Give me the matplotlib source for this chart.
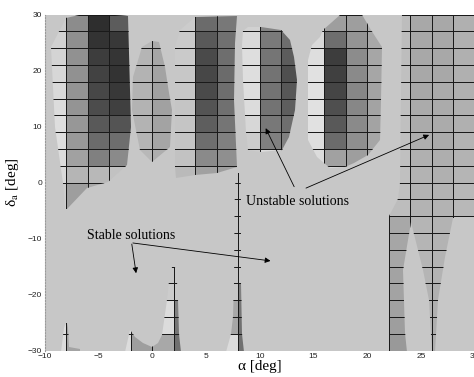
import numpy as np
import matplotlib.pyplot as plt
from matplotlib.patches import Polygon

plt.rcParams['mathtext.fontset'] = 'stix'

# ---- data: each unstable region = cell grid (x edges, y edges, grey level) + outline ----
# region left of alpha=-2
a_x = [-10, -8, -6, -4, -1]
a_y = [-6, 0, 3, 6, 9, 12, 15, 18, 21, 24, 27, 30]
a_z = [
    [0.80, 0.62, 0.66, 0.72],
    [0.85, 0.71, 0.72, 0.76],
    [0.86, 0.63, 0.50, 0.54],
    [0.87, 0.60, 0.42, 0.43],
    [0.87, 0.59, 0.35, 0.33],
    [0.86, 0.58, 0.30, 0.25],
    [0.85, 0.58, 0.28, 0.22],
    [0.84, 0.57, 0.26, 0.20],
    [0.83, 0.57, 0.24, 0.21],
    [0.82, 0.56, 0.20, 0.22],
    [0.80, 0.55, 0.18, 0.36],
]
a_edge = [(-8.0, 29.4), (-6.0, 30.2), (-2.25, 29.7), (-2.0, 9.9), (-2.35, 3.1),
          (-4.1, 0.1), (-6.1, -1.0), (-7.95, -4.7), (-8.1, -4.7), (-8.3, 0.0),
          (-9.05, 9.9), (-9.37, 24.2)]

# small region around alpha=0
b_x = [-2, 0, 2.5]
b_y = [3, 6, 9, 12, 15, 18, 21, 24, 27]
b_z = [
    [0.72, 0.68], [0.71, 0.65], [0.70, 0.64], [0.70, 0.63],
    [0.70, 0.63], [0.70, 0.64], [0.71, 0.65], [0.72, 0.67],
]
b_edge = [(-0.06, 25.3), (0.65, 25.1), (1.18, 20.7), (1.6, 16.0), (1.8, 12.9),
          (1.65, 6.4), (-0.06, 3.7), (-1.14, 5.8), (-1.92, 12.9), (-1.77, 18.9),
          (-0.99, 24.2)]

# region between alpha=2 and 8
c_x = [2, 4, 6, 8.5]
c_y = [0, 3, 6, 9, 12, 15, 18, 21, 24, 27, 30]
c_z = [
    [0.73, 0.63, 0.62],
    [0.76, 0.54, 0.56],
    [0.77, 0.43, 0.50],
    [0.77, 0.37, 0.46],
    [0.77, 0.33, 0.44],
    [0.78, 0.29, 0.43],
    [0.78, 0.28, 0.42],
    [0.79, 0.29, 0.43],
    [0.79, 0.35, 0.44],
    [0.80, 0.42, 0.47],
]
c_edge = [(2.6, 27.2), (3.97, 29.5), (7.88, 29.8), (7.7, 24.9), (7.6, 14.7),
          (7.85, 2.8), (6.0, 1.7), (3.97, 1.3), (2.2, 0.8), (2.1, 2.8), (2.1, 24.2)]

# region between alpha=8.5 and 13.5
d_x = [8, 10, 12, 14]
d_y = [3, 6, 9, 12, 15, 18, 21, 24, 27, 30]
d_z = [
    [0.80, 0.86, 0.60],
    [0.80, 0.50, 0.50],
    [0.84, 0.47, 0.43],
    [0.86, 0.45, 0.37],
    [0.87, 0.45, 0.34],
    [0.87, 0.45, 0.31],
    [0.87, 0.46, 0.36],
    [0.85, 0.48, 0.43],
    [0.82, 0.52, 0.47],
]
d_edge = [(8.45, 27.1), (8.9, 27.8), (10.1, 27.8), (12.0, 27.2), (12.8, 25.4),
          (13.2, 22.5), (13.5, 18.3), (13.3, 12.9), (12.7, 8.2), (12.05, 5.8),
          (10.0, 5.45), (8.9, 5.8), (8.7, 9.0), (8.45, 18.3), (8.35, 24.5)]

# region between alpha=14.5 and 21.5
e_x = [14, 16, 18, 20, 22]
e_y = [0, 3, 6, 9, 12, 15, 18, 21, 24, 27, 30]
e_z = [
    [0.82, 0.85, 0.70, 0.68],
    [0.86, 0.63, 0.62, 0.66],
    [0.87, 0.42, 0.56, 0.65],
    [0.88, 0.35, 0.54, 0.64],
    [0.88, 0.31, 0.53, 0.64],
    [0.88, 0.27, 0.53, 0.64],
    [0.88, 0.25, 0.54, 0.65],
    [0.87, 0.24, 0.55, 0.65],
    [0.85, 0.43, 0.58, 0.66],
    [0.82, 0.62, 0.62, 0.68],
]
e_edge = [(15.6, 26.0), (15.9, 27.2), (17.5, 29.9), (19.4, 30.2), (20.3, 27.2),
          (21.4, 24.2), (21.3, 14.7), (21.2, 7.6), (20.1, 4.9), (18.8, 3.4),
          (17.9, 2.8), (16.5, 2.6), (15.3, 4.6), (14.5, 7.6), (14.5, 21.9),
          (14.85, 24.5)]

# large region on the right
f_x = [22, 24, 26, 28, 30]
f_y = list(range(-30, 31, 3))
f_z = [
    [0.60, 0.70, 0.68, 0.78],
    [0.62, 0.70, 0.68, 0.78],
    [0.63, 0.70, 0.69, 0.78],
    [0.64, 0.70, 0.69, 0.78],
    [0.64, 0.71, 0.70, 0.78],
    [0.65, 0.71, 0.70, 0.78],
    [0.65, 0.71, 0.70, 0.78],
    [0.66, 0.71, 0.70, 0.78],
    [0.74, 0.70, 0.70, 0.72],
    [0.75, 0.70, 0.70, 0.72],
    [0.75, 0.70, 0.69, 0.71],
    [0.75, 0.69, 0.68, 0.70],
    [0.75, 0.68, 0.67, 0.70],
    [0.75, 0.67, 0.67, 0.69],
    [0.75, 0.67, 0.67, 0.69],
    [0.75, 0.66, 0.67, 0.69],
    [0.75, 0.66, 0.66, 0.69],
    [0.74, 0.66, 0.66, 0.69],
    [0.74, 0.66, 0.66, 0.69],
    [0.74, 0.66, 0.66, 0.69],
]
f_edge = [(23.2, 30.2), (30.5, 30.2), (30.5, -6.25), (28.0, -6.25), (27.2, -13.25),
          (26.6, -21.0), (26.3, -30.2), (26.0, -30.2), (25.7, -21.0), (25.2, -15.6),
          (24.1, -7.0), (23.35, -15.6), (23.5, -26.9), (23.7, -30.2), (21.95, -30.2),
          (21.95, -6.25), (22.9, -3.0), (23.0, 0.0), (23.1, 15.0)]

# narrow spikes at the bottom
s1_x = [-10, -8, -6]
s1_y = [-30, -27, -24]
s1_z = [[0.86, 0.64], [0.86, 0.64]]
s1_edge = [(-8.45, -30.2), (-8.2, -26.0), (-8.05, -25.0), (-7.95, -25.0),
           (-7.8, -26.0), (-7.7, -29.3), (-6.7, -29.8), (-6.7, -30.2)]

s2_x = [-4, -2, 0, 2, 4]
s2_y = [-30, -27, -24, -21, -18, -15]
s2_z = [
    [0.86, 0.62, 0.66, 0.44],
    [0.86, 0.62, 0.86, 0.46],
    [0.78, 0.78, 0.86, 0.50],
    [0.78, 0.78, 0.80, 0.78],
    [0.78, 0.78, 0.78, 0.78],
]
s2_edge = [(-2.5, -30.2), (-2.1, -26.3), (-1.6, -27.5), (-0.9, -28.6), (0.0, -29.3),
           (0.5, -28.6), (0.9, -27.2), (1.4, -21.0), (1.6, -17.8), (1.85, -15.0),
           (2.1, -15.0), (2.35, -17.8), (2.4, -21.0), (2.45, -27.0), (2.65, -30.2)]

s3_x = [6, 8, 10]
s3_y = [-30, -27, -24, -21, -18, -15, -12, -9, -6, -3, 0, 3]
s3_z = [[0.86, 0.44], [0.65, 0.44], [0.66, 0.46], [0.78, 0.50], [0.78, 0.78],
        [0.78, 0.78], [0.78, 0.78], [0.78, 0.78], [0.78, 0.78], [0.78, 0.78],
        [0.78, 0.78]]
s3_edge = [(6.9, -30.2), (7.3, -27.0), (7.55, -24.0), (7.65, -18.0), (7.7, -0.4),
           (7.95, 1.7), (8.05, 1.7), (8.3, -0.4), (8.3, -18.0), (8.35, -27.0),
           (8.5, -30.2)]

# annotations: (tail, head)
unstable_xy = (8.7, -3.4)
unstable_arrows = [((13.2, -0.75), (10.55, 9.7)), ((14.3, -1.0), (25.75, 8.5))]
stable_xy = (-6.05, -9.5)
stable_arrows = [((-1.9, -11.0), (-1.5, -16.2)), ((-1.8, -10.8), (11.0, -14.0))]

x_ticks = [-10, -5, 0, 5, 10, 15, 20, 25, 30]
y_ticks = [-30, -20, -10, 0, 10, 20, 30]

# ---- figure ----
fig = plt.figure(figsize=(4.74, 3.77), dpi=100)
ax = fig.add_axes([44.7 / 474, 26.5 / 377, 430.1 / 474, 336 / 377])
ax.set_facecolor('#c7c7c7')
ax.set_xlim(-10, 30)
ax.set_ylim(-30, 30)


def draw_region(xe, ye, z, outline):
    clip = Polygon(outline, closed=True, transform=ax.transData)
    mesh = ax.pcolormesh(xe, ye, np.array(z), cmap='gray', vmin=0, vmax=1,
                         edgecolors='#1a1a1a', linewidths=0.6)
    mesh.set_clip_path(clip)


for xe, ye, z, outline in [(a_x, a_y, a_z, a_edge), (b_x, b_y, b_z, b_edge),
                           (c_x, c_y, c_z, c_edge), (d_x, d_y, d_z, d_edge),
                           (e_x, e_y, e_z, e_edge), (f_x, f_y, f_z, f_edge),
                           (s1_x, s1_y, s1_z, s1_edge), (s2_x, s2_y, s2_z, s2_edge),
                           (s3_x, s3_y, s3_z, s3_edge)]:
    draw_region(xe, ye, z, outline)

serif = 'Liberation Serif'
ax.text(*unstable_xy, 'Unstable solutions', family=serif, fontsize=10, va='center')
ax.text(*stable_xy, 'Stable solutions', family=serif, fontsize=10, va='center')
for tail, head in unstable_arrows + stable_arrows:
    ax.annotate('', xy=head, xytext=tail,
                arrowprops=dict(arrowstyle='-|>', color='black', lw=0.6,
                                mutation_scale=8, shrinkA=0, shrinkB=0))

ax.set_xticks(x_ticks)
ax.set_yticks(y_ticks)
ax.tick_params(length=0, labelsize=6, labelcolor='#222222', pad=2)
for lab in ax.get_xticklabels() + ax.get_yticklabels():
    lab.set_family('Liberation Sans')

for s in ['top', 'right', 'bottom']:
    ax.spines[s].set_visible(False)
ax.spines['left'].set_linestyle(':')
ax.spines['left'].set_color('#999999')
ax.spines['left'].set_linewidth(0.8)

ax.set_xlabel('α [deg]', family=serif, fontsize=11, labelpad=0)
ax.set_ylabel(r'δ$_\mathrm{a}$ [deg]', family=serif, fontsize=11)
ax.yaxis.set_label_coords(-0.055, 0.5)

fig.savefig('out.png', dpi=100)
